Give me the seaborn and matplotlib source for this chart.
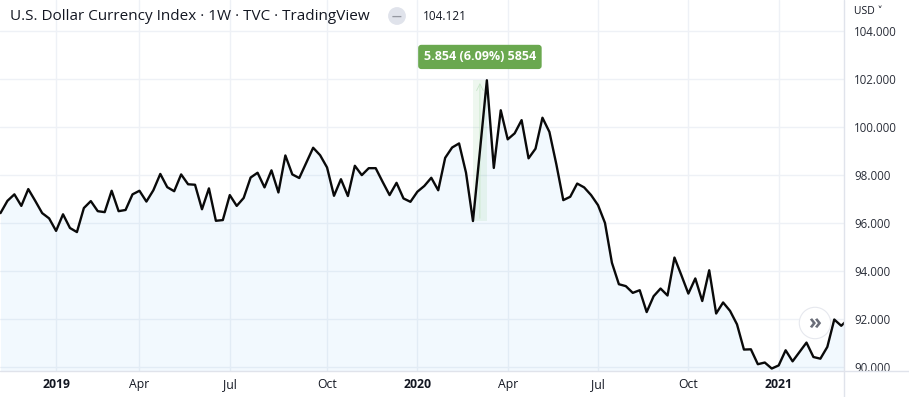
import matplotlib
matplotlib.use("Agg")
import matplotlib.pyplot as plt
import seaborn as sns
import pandas as pd
import numpy as np
from matplotlib.patches import Rectangle
from matplotlib.lines import Line2D

# weekly closes of the DXY
week_start = "2018-11-05"
dxy_close = [
    96.42, 96.93, 97.20, 96.72, 97.42, 96.93, 96.42, 96.20, 95.68, 96.37,
    95.80, 95.63, 96.63, 96.92, 96.50, 96.46, 97.35, 96.50, 96.55, 97.20,
    97.35, 96.90, 97.37, 98.05, 97.50, 97.33, 98.03, 97.62, 97.60, 96.58,
    97.45, 96.10, 96.13, 97.17, 96.72, 97.05, 97.90, 98.10, 97.49, 98.20,
    97.28, 98.82, 98.03, 97.88, 98.51, 99.14, 98.83, 98.32, 97.14, 97.83,
    97.13, 98.39, 98.00, 98.29, 98.29, 97.72, 97.17, 97.68, 97.03, 96.89,
    97.31, 97.55, 97.89, 97.37, 98.72, 99.15, 99.32, 98.10, 96.09, 99.00,
    101.95, 98.30, 100.70, 99.49, 99.74, 100.29, 98.70, 99.10, 100.39, 99.80,
    98.45, 96.96, 97.10, 97.65, 97.49, 97.17, 96.75, 96.01, 94.35, 93.46,
    93.38, 93.10, 93.21, 92.30, 92.96, 93.28, 92.99, 94.57, 93.83, 93.07,
    93.70, 92.76, 94.04, 92.24, 92.70, 92.35, 91.79, 90.74, 90.75, 90.13,
    90.20, 89.95, 90.08, 90.71, 90.25, 90.64, 91.03, 90.43, 90.36, 90.85,
    91.99, 91.73, 92.00,
]

# time axis labels (TradingView places them on bar positions)
tick_bars = [8, 20, 33, 47, 60, 73, 86, 99, 112]
tick_labels = ["2019", "Apr", "Jul", "Oct", "2020", "Apr", "Jul", "Oct", "2021"]
year_labels = {"2019", "2020", "2021"}
price_ticks = [90, 92, 94, 96, 98, 100, 102, 104]

# measurement tool: from the March 2020 low to the high two weeks later
measure_from, measure_to = 68, 70
measure_text = "5.854 (6.09%) 5854"
last_price = "104.121"

df = pd.DataFrame({
    "week": pd.date_range(week_start, periods=len(dxy_close), freq="7D"),
    "close": dxy_close,
})
df["bar"] = np.arange(len(df))

sns.set_theme(style="white")
plt.rcParams["font.family"] = ["Open Sans", "DejaVu Sans"]

W, H = 909, 397
fig = plt.figure(figsize=(W / 100, H / 100), dpi=100)
ax = fig.add_axes([0, 26.3 / H, 844 / W, 370.7 / H])

ymin, ymax = 89.86, 105.29
ax.fill_between(df["bar"], df["close"], ymin, color="#2196f3", alpha=0.055, lw=0, zorder=1)
sns.lineplot(data=df, x="bar", y="close", ax=ax, color="#0a0a0a", lw=1.7, zorder=3)

ax.set_xlim(-0.07, 121.4)
ax.set_ylim(ymin, ymax)

# grid
ax.set_xticks(tick_bars)
ax.set_yticks(price_ticks)
ax.grid(True, color="#eef1f6", lw=1, zorder=0)
ax.set_axisbelow(True)
for s in ax.spines.values():
    s.set_visible(False)

ax.yaxis.tick_right()
ax.set_yticklabels([f"{p:.3f}" for p in price_ticks], fontsize=8.3, color="#2a2e39")
ax.tick_params(axis="y", length=0, pad=7.5)
ax.set_xticklabels(tick_labels, fontsize=8.8, color="#131722")
ax.tick_params(axis="x", length=0, pad=5)
for lab in ax.get_xticklabels():
    if lab.get_text() in year_labels:
        lab.set_fontweight("bold")
ax.set_xlabel("")
ax.set_ylabel("")

# measurement range highlight
lo = df["close"][measure_from]
hi = df["close"][measure_to]
ax.add_patch(Rectangle((measure_from, lo), measure_to - measure_from, hi - lo,
                       facecolor="#4caf50", alpha=0.09, edgecolor="none", zorder=2))
ax.annotate("", xy=(measure_from + 1, hi), xytext=(measure_from + 1, lo),
            arrowprops=dict(arrowstyle="->", color="#c8e6c9", lw=0.6), zorder=2)
ax.text(measure_from + 1, 102.92, measure_text, ha="center", va="center",
        fontsize=9, fontweight="bold", color="white", zorder=5,
        bbox=dict(boxstyle="round,pad=0.45,rounding_size=0.25", fc="#6aa84f", ec="none"))

# frame lines of the chart pane
fig.add_artist(Line2D([0, 1], [26.3 / H, 26.3 / H], color="#e0e3eb", lw=1))
fig.add_artist(Line2D([844 / W, 844 / W], [0, 1], color="#e0e3eb", lw=1))

# header
fig.text(10 / W, 1 - 16 / H, "U.S. Dollar Currency Index · 1W · TVC · TradingView",
         fontsize=11, color="#131722", va="center", ha="left")
fig.text(397 / W, 1 - 16 / H, "—", fontsize=7, fontweight="bold", color="#9598a1",
         ha="center", va="center",
         bbox=dict(boxstyle="circle,pad=0.35", fc="#e0e3eb", ec="none"))
fig.text(423 / W, 1 - 16 / H, last_price, fontsize=8.5, color="#131722", va="center")
fig.text(854 / W, 1 - 12 / H, "USD ˅", fontsize=7.5, color="#131722", va="center")

# scroll-to-realtime button
fig.text(815 / W, 1 - 323 / H, "»", fontsize=15, fontweight="bold", color="#6a6d78",
         ha="center", va="center", zorder=6,
         bbox=dict(boxstyle="circle,pad=0.25", fc="white", ec="#e6e8ee", lw=0.8))

fig.savefig("out.png", dpi=100, facecolor="white")
